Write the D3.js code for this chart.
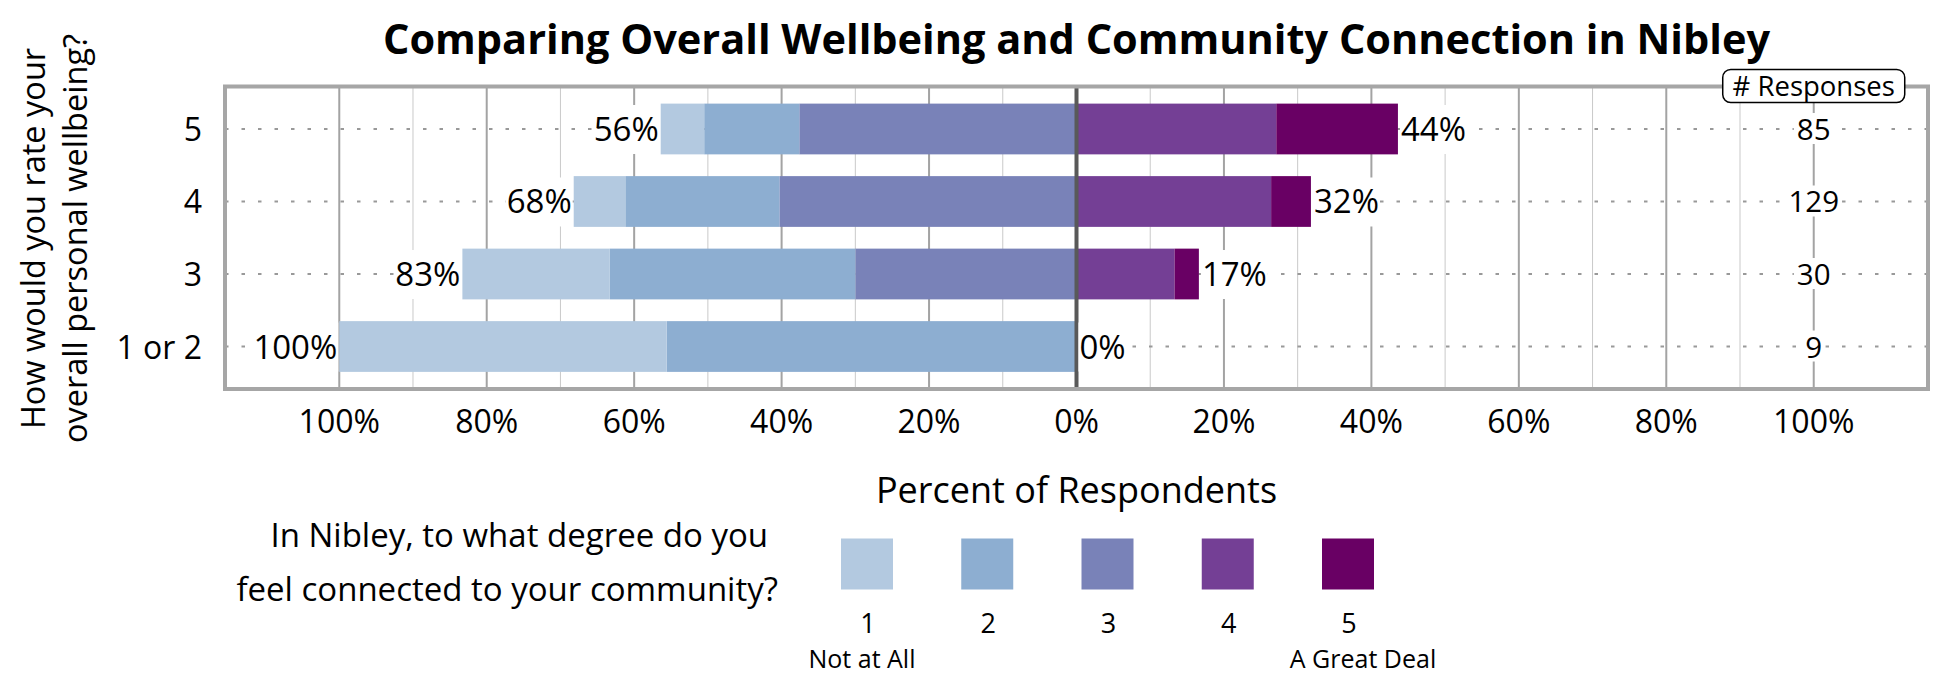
<!DOCTYPE html>
<html>
<head>
<meta charset="utf-8">
<script src="https://cdn.jsdelivr.net/npm/d3@7"></script>
<style>
  html, body { margin: 0; padding: 0; background: #fff; }
  svg { display: block; font-family: "Open Sans", sans-serif; }
</style>
</head>
<body>
<svg id="chart" width="1950" height="675"></svg>
<script>
// ---- Data ----
const categories = ["5", "4", "3", "1 or 2"];
const responses = [85, 129, 30, 9];
const levels = ["1", "2", "3", "4", "5"];
const levelNotes = ["Not at All", "", "", "", "A Great Deal"];
const level1 = [5.9, 7.0, 20.0, 44.4];
const level2 = [12.9, 20.9, 33.3, 55.6];
const level3 = [37.6, 40.3, 30.0, 0];
const level4 = [27.1, 26.4, 13.3, 0];
const level5 = [16.5, 5.4, 3.3, 0];
const xTickValues = [-100, -80, -60, -40, -20, 0, 20, 40, 60, 80, 100];
const minorTickValues = [-90, -70, -50, -30, -10, 10, 30, 50, 70, 90];
const colors = ["#b3c9e0", "#8daed1", "#7982b8", "#743f95", "#690064"];

const titleText = "Comparing Overall Wellbeing and Community Connection in Nibley";
const yTitleLines = ["How would you rate your", "overall personal wellbeing?"];
const xTitleText = "Percent of Respondents";
const legendTitleLines = ["In Nibley, to what degree do you", "feel connected to your community?"];
const responsesHeader = "# Responses";

// ---- Layout ----
const svg = d3.select("#chart");
const frame = { left: 225, right: 1928, top: 86.5, bottom: 389 };

const x = d3.scaleLinear().domain([-115.5, 115.5]).range([frame.left, frame.right]);
const y = d3.scaleBand().domain(categories)
  .range([frame.top, frame.bottom]).paddingInner(0.3).paddingOuter(0.236);

const series = [level1, level2, level3, level4, level5];
const rows = categories.map((c, i) => {
  const v = series.map(s => s[i]);
  const segs = [];
  let acc = 0;
  [2, 1, 0].forEach(k => { segs.push({ k, x0: -(acc + v[k]), x1: -acc }); acc += v[k]; });
  const leftTotal = acc;
  acc = 0;
  [3, 4].forEach(k => { segs.push({ k, x0: acc, x1: acc + v[k] }); acc += v[k]; });
  const rightTotal = acc;
  return { cat: c, segs, leftTotal, rightTotal, n: responses[i] };
});

// white plot background
svg.append("rect").attr("x", frame.left).attr("y", frame.top)
  .attr("width", frame.right - frame.left).attr("height", frame.bottom - frame.top)
  .attr("fill", "#fff");

// minor gridlines
svg.append("g").selectAll("line").data(minorTickValues).join("line")
  .attr("x1", d => x(d)).attr("x2", d => x(d))
  .attr("y1", frame.top).attr("y2", frame.bottom)
  .attr("stroke", "#c9c9c9").attr("stroke-width", 1);

// major gridlines
svg.append("g").selectAll("line").data(xTickValues.filter(d => d !== 0)).join("line")
  .attr("x1", d => x(d)).attr("x2", d => x(d))
  .attr("y1", frame.top).attr("y2", frame.bottom)
  .attr("stroke", "#a3a3a3").attr("stroke-width", 2);

// dotted row lines
svg.append("g").selectAll("line").data(categories).join("line")
  .attr("x1", frame.left).attr("x2", frame.right)
  .attr("y1", d => y(d) + y.bandwidth() / 2).attr("y2", d => y(d) + y.bandwidth() / 2)
  .attr("stroke", "#999").attr("stroke-width", 1.8)
  .attr("stroke-dasharray", "3.5,13");

// bars
const barG = svg.append("g");
rows.forEach(r => {
  barG.selectAll(null).data(r.segs.filter(s => s.x1 - s.x0 > 0)).join("rect")
    .attr("x", s => x(s.x0))
    .attr("width", s => x(s.x1) - x(s.x0))
    .attr("y", y(r.cat)).attr("height", y.bandwidth())
    .attr("fill", s => colors[s.k]);
});

// center line
svg.append("line").attr("x1", x(0)).attr("x2", x(0))
  .attr("y1", frame.top).attr("y2", frame.bottom)
  .attr("stroke", "#595959").attr("stroke-width", 4);

// helper: text with white background
function labelWithBg(g, tx, ty, text, size, anchor, padX, bgH) {
  const bg = g.append("rect").attr("fill", "#fff");
  const t = g.append("text").attr("x", tx).attr("y", ty)
    .attr("text-anchor", anchor).attr("font-size", size).attr("fill", "#000").text(text);
  const b = t.node().getBBox();
  bg.attr("x", b.x - padX).attr("width", b.width + 2 * padX)
    .attr("y", ty - bgH.up).attr("height", bgH.up + bgH.down);
  return t;
}

// percent labels
const lblG = svg.append("g");
rows.forEach(r => {
  const cy = y(r.cat) + y.bandwidth() / 2;
  labelWithBg(lblG, x(-r.leftTotal) - 2, cy + 12, Math.round(r.leftTotal) + "%", 33, "end", 1, { up: 36, down: 13 });
  labelWithBg(lblG, x(r.rightTotal) + 3, cy + 12, Math.round(r.rightTotal) + "%", 33, "start", 1, { up: 36, down: 13 });
});

// response counts
const nG = svg.append("g");
rows.forEach(r => {
  const cy = y(r.cat) + y.bandwidth() / 2;
  labelWithBg(nG, x(100), cy + 11, r.n, 29.5, "middle", 3, { up: 27, down: 4 });
});

// frame border
svg.append("rect").attr("x", frame.left).attr("y", frame.top)
  .attr("width", frame.right - frame.left).attr("height", frame.bottom - frame.top)
  .attr("fill", "none").attr("stroke", "#a6a6a6").attr("stroke-width", 4);

// # Responses header box
svg.append("rect").attr("x", x(100) - 91).attr("y", 69.5).attr("width", 182).attr("height", 33)
  .attr("rx", 8).attr("fill", "#fff").attr("stroke", "#000").attr("stroke-width", 1.5);
svg.append("text").attr("x", x(100)).attr("y", 96).attr("text-anchor", "middle")
  .attr("font-size", 27.5).text(responsesHeader);

// category labels
svg.append("g").selectAll("text").data(categories).join("text")
  .attr("x", 202).attr("y", d => y(d) + y.bandwidth() / 2 + 12)
  .attr("text-anchor", "end").attr("font-size", 32).text(d => d);

// x tick labels
svg.append("g").selectAll("text").data(xTickValues).join("text")
  .attr("x", d => x(d)).attr("y", 433).attr("text-anchor", "middle")
  .attr("font-size", 32).text(d => Math.abs(d) + "%");

// title
svg.append("text").attr("x", x(0)).attr("y", 54).attr("text-anchor", "middle")
  .attr("font-size", 41.5).attr("font-weight", "bold").text(titleText);

// y axis title
const yt = svg.append("text").attr("transform", "translate(0,238.5) rotate(-90)")
  .attr("text-anchor", "middle").attr("font-size", 32.5);
yTitleLines.forEach((l, i) => yt.append("tspan").attr("x", 0).attr("y", i === 0 ? 45 : 87).text(l));

// x axis title
svg.append("text").attr("x", x(0)).attr("y", 503).attr("text-anchor", "middle")
  .attr("font-size", 36).text(xTitleText);

// legend question
svg.append("text").attr("x", 768).attr("y", 547).attr("text-anchor", "end")
  .attr("font-size", 33).text(legendTitleLines[0]);
svg.append("text").attr("x", 778).attr("y", 601).attr("text-anchor", "end")
  .attr("font-size", 33).text(legendTitleLines[1]);

// legend
const lx = d3.scaleLinear().domain([0, 4]).range([867, 1348]);
const lg = svg.append("g");
lg.selectAll("rect").data(levels).join("rect")
  .attr("x", (d, i) => lx(i) - 26).attr("y", 538.5).attr("width", 52).attr("height", 51)
  .attr("fill", (d, i) => colors[i]);
lg.selectAll("text.num").data(levels).join("text").attr("class", "num")
  .attr("x", (d, i) => lx(i) + 1).attr("y", 632.5).attr("text-anchor", "middle")
  .attr("font-size", 27).text(d => d);
const noteOffsets = [-5, 0, 0, 0, 15];
lg.selectAll("text.note").data(levelNotes.filter(n => n)).join("text").attr("class", "note")
  .attr("x", d => lx(levelNotes.indexOf(d)) + noteOffsets[levelNotes.indexOf(d)])
  .attr("y", 667.5).attr("text-anchor", "middle")
  .attr("font-size", 25).text(d => d);
</script>
</body>
</html>
